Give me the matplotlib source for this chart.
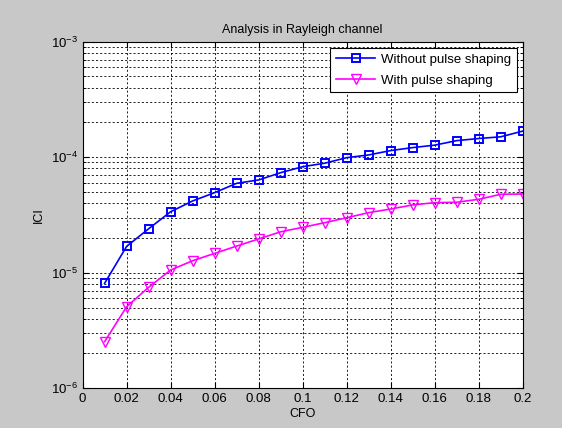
import matplotlib
matplotlib.use("Agg")
import matplotlib.pyplot as plt
from matplotlib.ticker import LogLocator, FixedLocator, NullFormatter

plt.rcParams['font.family'] = ['Liberation Sans', 'DejaVu Sans']

cfo = [0.01, 0.02, 0.03, 0.04, 0.05, 0.06, 0.07, 0.08, 0.09, 0.10,
       0.11, 0.12, 0.13, 0.14, 0.15, 0.16, 0.17, 0.18, 0.19, 0.20]
ici_without = [8.1e-6, 1.69e-5, 2.40e-5, 3.37e-5, 4.18e-5, 4.93e-5, 5.94e-5, 6.35e-5, 7.34e-5, 8.27e-5,
               8.86e-5, 9.9e-5, 1.045e-4, 1.14e-4, 1.21e-4, 1.27e-4, 1.39e-4, 1.45e-4, 1.50e-4, 1.68e-4]
ici_with = [2.53e-6, 5.08e-6, 7.48e-6, 1.055e-5, 1.27e-5, 1.47e-5, 1.70e-5, 1.96e-5, 2.26e-5, 2.47e-5,
            2.71e-5, 2.99e-5, 3.31e-5, 3.56e-5, 3.86e-5, 4.04e-5, 4.07e-5, 4.32e-5, 4.77e-5, 4.80e-5]
xticks = [0, 0.02, 0.04, 0.06, 0.08, 0.1, 0.12, 0.14, 0.16, 0.18, 0.2]
xticklabels = ['0', '0.02', '0.04', '0.06', '0.08', '0.1', '0.12', '0.14', '0.16', '0.18', '0.2']

fig = plt.figure(figsize=(5.62, 4.28), dpi=100, facecolor='#c8c8c8')
ax = fig.add_axes([0.147, 0.0928, 0.783, 0.81])
ax.set_facecolor('white')

ax.plot(cfo, ici_without, color='#0000ff', lw=1.2, marker='s', ms=6, mfc='none', mew=1.4,
        label='Without pulse shaping')
ax.plot(cfo, ici_with, color='#ff00ff', lw=1.2, marker='v', ms=6.5, mfc='none', mew=1.0,
        label='With pulse shaping')

ax.set_yscale('log')
ax.set_xlim(0, 0.2)
ax.set_ylim(1e-6, 1e-3)
ax.xaxis.set_major_locator(FixedLocator(xticks))
ax.set_xticklabels(xticklabels)
ax.yaxis.set_major_locator(LogLocator(base=10, numticks=10))
ax.yaxis.set_minor_locator(LogLocator(base=10, subs=range(2, 10), numticks=100))
ax.yaxis.set_minor_formatter(NullFormatter())

gs = dict(color='black', lw=0.6, linestyle=(0, (2.5, 2.5)))
ax.grid(True, which='major', axis='both', **gs)
ax.grid(True, which='minor', axis='y', **gs)

ax.tick_params(which='both', direction='in', top=True, right=True, labelsize=9.5)
ax.tick_params(which='minor', length=2)
ax.tick_params(which='major', length=4)
for s in ax.spines.values():
    s.set_linewidth(0.8)

ax.set_title('Analysis in Rayleigh channel', fontsize=9, pad=6)
ax.set_xlabel('CFO', fontsize=9, labelpad=2)
ax.set_ylabel('ICI', fontsize=9)

leg = ax.legend(loc='upper right', fontsize=9.5, fancybox=False, framealpha=1,
                edgecolor='black', borderaxespad=0.45, handlelength=3.0,
                handletextpad=0.4, labelspacing=0.65, borderpad=0.45)
leg.get_frame().set_linewidth(0.8)

fig.savefig('out.png', dpi=100, facecolor=fig.get_facecolor())
